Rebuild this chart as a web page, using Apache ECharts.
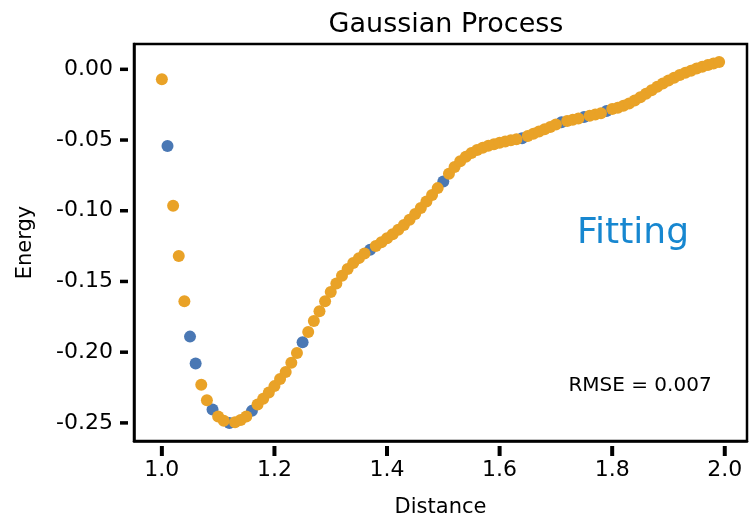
<!DOCTYPE html>
<html><head><meta charset="utf-8">
<script src="https://cdn.jsdelivr.net/npm/echarts@6/dist/echarts.min.js"></script>
<style>html,body{margin:0;padding:0;background:#fff}#c{width:749px;height:523px}</style>
</head><body><div id="c"></div>
<script>
// training points (blue)
const trainDistance = [1.01, 1.05, 1.06, 1.09, 1.12, 1.16, 1.25, 1.37, 1.50, 1.64, 1.71, 1.75, 1.79];
const trainEnergy = [-0.0542, -0.1890, -0.2080, -0.2405, -0.2500, -0.2415, -0.1930, -0.1275, -0.0794, -0.0487, -0.0375, -0.0338, -0.0295];
// GP predictions (orange)
const predDistance = [
  1.00, 1.02, 1.03, 1.04, 1.07, 1.08,
  1.10, 1.11, 1.13, 1.14, 1.15, 1.17, 1.18, 1.19,
  1.20, 1.21, 1.22, 1.23, 1.24, 1.26, 1.27, 1.28, 1.29,
  1.30, 1.31, 1.32, 1.33, 1.34, 1.35, 1.36, 1.38, 1.39,
  1.40, 1.41, 1.42, 1.43, 1.44, 1.45, 1.46, 1.47, 1.48, 1.49,
  1.51, 1.52, 1.53, 1.54, 1.55, 1.56, 1.57, 1.58, 1.59,
  1.60, 1.61, 1.62, 1.63, 1.65, 1.66, 1.67, 1.68, 1.69,
  1.70, 1.72, 1.73, 1.74, 1.76, 1.77, 1.78,
  1.80, 1.81, 1.82, 1.83, 1.84, 1.85, 1.86, 1.87, 1.88, 1.89,
  1.90, 1.91, 1.92, 1.93, 1.94, 1.95, 1.96, 1.97, 1.98, 1.99
];
const predEnergy = [
  -0.0070, -0.0965, -0.1320, -0.1640, -0.2230, -0.2340,
  -0.2455, -0.2485, -0.2495, -0.2480, -0.2455, -0.2370, -0.2330, -0.2285,
  -0.2240, -0.2190, -0.2140, -0.2075, -0.2005, -0.1857, -0.1780, -0.1710, -0.1640,
  -0.1575, -0.1515, -0.1460, -0.1412, -0.1370, -0.1335, -0.1303, -0.1250, -0.1223,
  -0.1195, -0.1166, -0.1134, -0.1100, -0.1063, -0.1023, -0.0980, -0.0935, -0.0888, -0.0840,
  -0.0738, -0.0690, -0.0650, -0.0618, -0.0592, -0.0571, -0.0555, -0.0541, -0.0529,
  -0.0519, -0.0510, -0.0502, -0.0495, -0.0472, -0.0456, -0.0440, -0.0424, -0.0408,
  -0.0391, -0.0365, -0.0356, -0.0347, -0.0329, -0.0320, -0.0311,
  -0.0280, -0.0271, -0.0258, -0.0242, -0.0220, -0.0197, -0.0172, -0.0148, -0.0124, -0.0100,
  -0.0079, -0.0060, -0.0041, -0.0025, -0.0010, 0.0005, 0.0018, 0.0030, 0.0041, 0.0051
];
const xTicks = [1.0, 1.2, 1.4, 1.6, 1.8, 2.0];
const yTicks = [-0.25, -0.20, -0.15, -0.10, -0.05, 0.00];
const xMin = 0.9505, xMax = 2.0395, yMin = -0.2628, yMax = 0.0179;

const FONT = 'DejaVu Sans';
const chart = echarts.init(document.getElementById('c'), null, {renderer: 'canvas'});
const zip = (xs, ys) => xs.map((x, i) => [x, ys[i]]);
const axisLine = {show: true, onZero: false, lineStyle: {color: '#000', width: 2.5}};
chart.setOption({
  animation: false,
  backgroundColor: '#fff',
  textStyle: {fontFamily: FONT},
  title: {
    text: 'Gaussian Process', left: 441, top: 6, textAlign: 'center',
    textStyle: {fontFamily: FONT, fontSize: 27, fontWeight: 'normal', color: '#000'}
  },
  grid: {left: 134, right: 2, top: 44, bottom: 82, show: true, borderColor: '#000', borderWidth: 2.5, backgroundColor: 'transparent'},
  xAxis: {
    type: 'value', min: xMin, max: xMax,
    name: 'Distance', nameLocation: 'middle', nameGap: 56,
    nameTextStyle: {fontFamily: FONT, fontSize: 21, color: '#000'},
    splitLine: {show: false},
    axisLine: axisLine,
    axisTick: {show: false},
    axisLabel: {fontFamily: FONT, fontSize: 22, color: '#000', margin: 18, customValues: xTicks,
      formatter: v => v.toFixed(1)}
  },
  yAxis: {
    type: 'value', min: yMin, max: yMax,
    name: 'Energy', nameLocation: 'middle', nameGap: 98, nameRotate: 90,
    nameTextStyle: {fontFamily: FONT, fontSize: 21, color: '#000'},
    splitLine: {show: false},
    axisLine: axisLine,
    axisTick: {show: false},
    axisLabel: {fontFamily: FONT, fontSize: 22, color: '#000', margin: 21, customValues: yTicks,
      formatter: v => v.toFixed(2)}
  },
  series: [
    {type: 'scatter', name: 'train', data: zip(trainDistance, trainEnergy), symbolSize: 12,
      itemStyle: {color: '#4A78B4', opacity: 1}},
    {type: 'scatter', name: 'pred', data: zip(predDistance, predEnergy), symbolSize: 12,
      itemStyle: {color: '#E9A227', opacity: 1}},
    // x tick marks, placed on the axis scale just below the frame
    {type: 'scatter', name: 'xticks', data: xTicks.map(v => [v, yMin]), symbol: 'rect',
      symbolSize: [4, 10], symbolOffset: [0, 10], clip: false, silent: true, z: 10,
      itemStyle: {color: '#000', opacity: 1}}
  ]
});

const graphics = [
  {type: 'text', x: 633, y: 234, style: {text: 'Fitting', fontFamily: FONT, fontSize: 36, fill: '#1787D0', align: 'center', verticalAlign: 'middle'}},
  {type: 'text', x: 640, y: 386, style: {text: 'RMSE = 0.007', fontFamily: FONT, fontSize: 20, fill: '#000', align: 'center', verticalAlign: 'middle'}}
];
const gLeft = chart.convertToPixel({xAxisIndex: 0}, xMin);
yTicks.forEach(v => {
  const py = chart.convertToPixel({yAxisIndex: 0}, v);
  graphics.push({type: 'rect', z: 100, silent: true,
    shape: {x: gLeft - 14, y: py - 1.75, width: 8, height: 3.5},
    style: {fill: '#000', stroke: null}});
});
chart.setOption({graphic: graphics});
</script>
</body></html>
